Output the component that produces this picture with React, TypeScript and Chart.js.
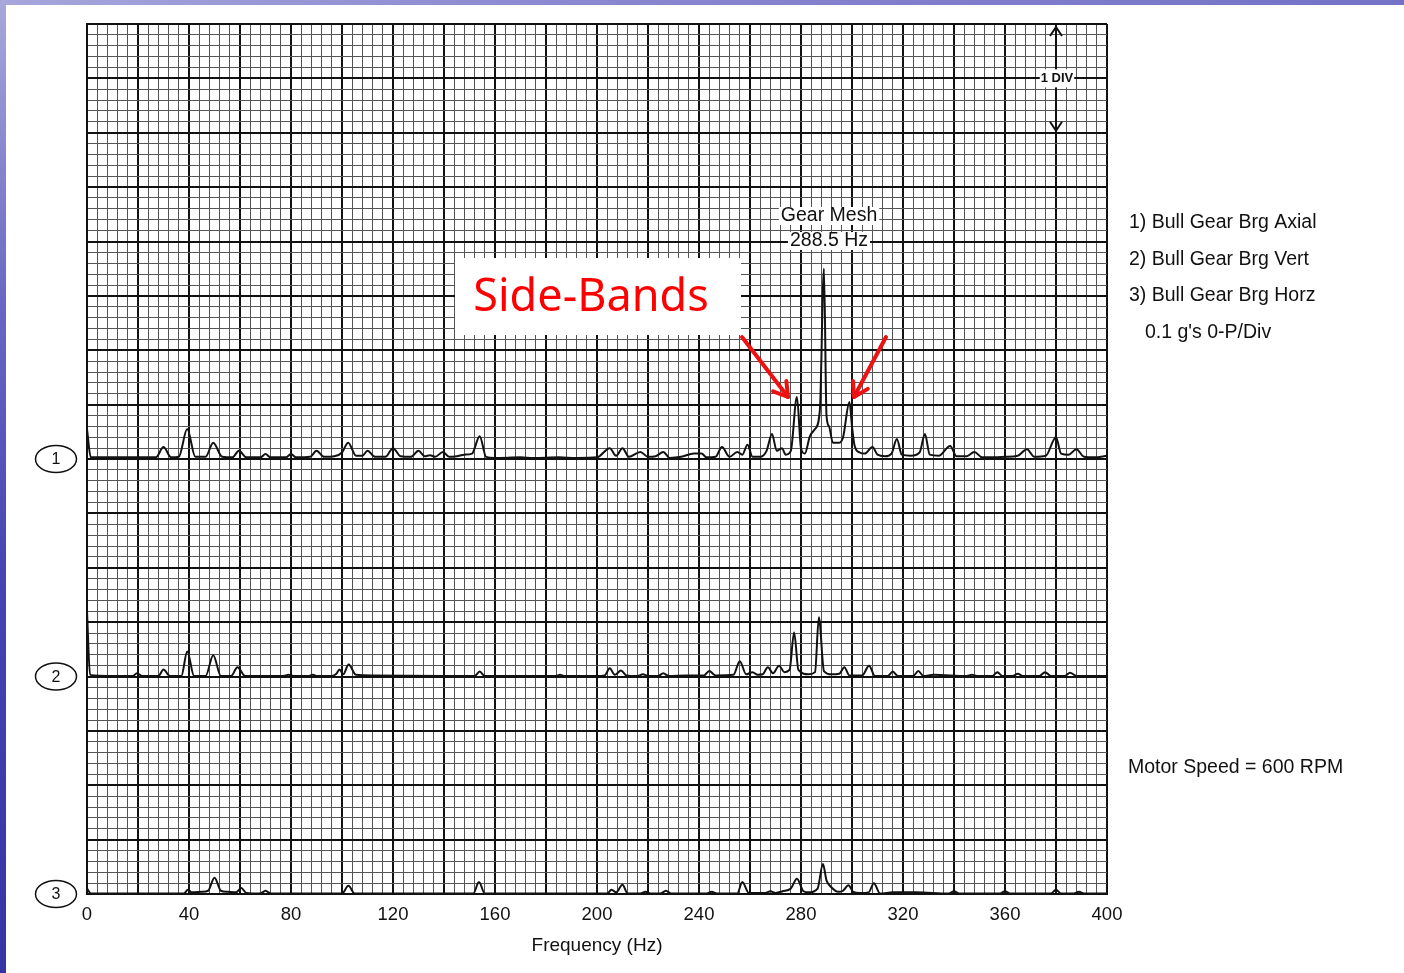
import React, { useEffect, useRef } from "react";
import { Chart, registerables } from "chart.js";

Chart.register(...registerables);

// ---- axis / tick data ----
const xMin = 0;
const xMax = 400;
const xLabelTicks = [0, 40, 80, 120, 160, 200, 240, 280, 320, 360, 400];
const divisions = 16; // vertical major divisions on the chart paper
const gPerDiv = 0.1; // 0.1 g's 0-P / Div

// baselines (in divisions from the bottom) of the three traces
const traceBaselines = [8, 4, 0];
const traceLabels = ["1", "2", "3"];
const legendLines = [
  "1) Bull Gear Brg Axial",
  "2) Bull Gear Brg Vert",
  "3) Bull Gear Brg Horz",
];
const scaleNote = "0.1 g's 0-P/Div";
const speedNote = "Motor Speed = 600 RPM";
const gearMeshLines = ["Gear Mesh", "288.5 Hz"];

// ---- trace 1 : Bull Gear Brg Axial (Hz, g 0-P) ----
const trace1Freq = [
  0, 1.5, 27, 30, 33, 36, 39.3, 42.5, 46.5, 49.5, 53, 57, 59.6, 62.5, 68, 70, 72,
  78, 80, 82, 87.5, 90, 93, 97, 100, 102.4, 105.5, 108, 110, 113, 117, 120, 123,
  127, 130, 132.5, 134.5, 136.5, 139.6, 142, 145, 148, 151, 154, 156.5, 160, 170,
  175, 185, 192, 200, 205, 207.5, 210, 212.5, 217, 220, 223, 226, 228.5, 233, 238,
  241, 243, 246.5, 249, 252, 255, 257, 259, 261, 264, 266.5, 268.6, 270.5, 272.5,
  274, 276, 278.4, 280, 281.5, 283.5, 285.5, 287.4, 289, 290, 291, 292.5, 295,
  296.5, 299, 300, 301, 303, 305, 308, 310, 313, 315.5, 317.6, 319.5, 323, 326.5,
  328.6, 330.5, 334, 338.5, 341, 345, 348, 351, 356, 360, 365, 368.6, 371.5, 376,
  380, 382, 385, 388, 391, 395, 400,
];
const trace1Amp = [
  0.055, 0.003, 0.003, 0.022, 0.003, 0.004, 0.055, 0.004, 0.004, 0.03, 0.004,
  0.003, 0.015, 0.003, 0.003, 0.009, 0.003, 0.003, 0.009, 0.003, 0.004, 0.015,
  0.004, 0.005, 0.012, 0.03, 0.006, 0.006, 0.015, 0.004, 0.004, 0.02, 0.005,
  0.004, 0.015, 0.005, 0.007, 0.004, 0.013, 0.004, 0.005, 0.008, 0.01, 0.042,
  0.004, 0.002, 0.003, 0.002, 0.003, 0.002, 0.003, 0.02, 0.006, 0.02, 0.004,
  0.013, 0.004, 0.005, 0.013, 0.002, 0.004, 0.01, 0.01, 0.003, 0.004, 0.022,
  0.004, 0.013, 0.008, 0.026, 0.004, 0.004, 0.015, 0.046, 0.015, 0.02, 0.008,
  0.015, 0.114, 0.02, 0.01, 0.042, 0.055, 0.09, 0.35, 0.08, 0.06, 0.03, 0.03,
  0.04, 0.105, 0.06, 0.025, 0.012, 0.01, 0.022, 0.008, 0.005, 0.01, 0.037,
  0.008, 0.006, 0.012, 0.046, 0.008, 0.006, 0.024, 0.005, 0.005, 0.013, 0.003,
  0.003, 0.004, 0.006, 0.018, 0.004, 0.006, 0.04, 0.01, 0.008, 0.018, 0.004,
  0.003, 0.006,
];

// ---- trace 2 : Bull Gear Brg Vert ----
const trace2Freq = [
  0, 1.2, 10, 18, 19.6, 21.5, 28, 30, 32.5, 37, 39.3, 42, 46.5, 49.5, 52.5, 56.5,
  59, 62, 77, 79, 81, 87, 88.6, 90, 96, 97.8, 99, 100.5, 102.6, 105.5, 112, 140,
  152, 154, 156, 184, 185.5, 187, 200, 203, 205, 207, 209.4, 211.5, 216, 218,
  220, 224, 226, 228, 235, 242, 244, 246.5, 253.5, 256, 258.5, 261, 263, 265,
  267, 269, 271.4, 273.5, 275.5, 277.3, 279, 283, 285.5, 287, 289, 292, 295, 297,
  299, 304, 306.7, 309, 314, 316, 318, 324, 326, 328, 332, 345, 347, 349, 355,
  357, 359, 363, 365, 367, 373.5, 375.7, 378, 383.5, 385.5, 388, 400,
];
const trace2Amp = [
  0.12, 0.003, 0.001, 0.001, 0.006, 0.001, 0.001, 0.013, 0.001, 0.001, 0.046,
  0.001, 0.001, 0.039, 0.001, 0.001, 0.017, 0.001, 0.001, 0.003, 0.001, 0.001,
  0.003, 0.001, 0.001, 0.005, 0.013, 0.004, 0.022, 0.003, 0.002, 0.001, 0.001,
  0.009, 0.001, 0.001, 0.003, 0.001, 0.001, 0.002, 0.015, 0.003, 0.011, 0.002,
  0.001, 0.004, 0.001, 0.001, 0.006, 0.001, 0.002, 0.002, 0.01, 0.002, 0.003,
  0.028, 0.004, 0.008, 0.003, 0.004, 0.017, 0.006, 0.02, 0.008, 0.012, 0.081,
  0.012, 0.004, 0.008, 0.109, 0.01, 0.004, 0.005, 0.017, 0.002, 0.002, 0.02,
  0.001, 0.001, 0.009, 0.001, 0.001, 0.01, 0.001, 0.003, 0.001, 0.003, 0.001,
  0.001, 0.008, 0.001, 0.001, 0.005, 0.001, 0.001, 0.008, 0.001, 0.001, 0.007,
  0.001, 0.001,
];

// ---- trace 3 : Bull Gear Brg Horz ----
const trace3Freq = [
  0, 1.5, 38, 39.6, 41, 45, 47.5, 50, 52.5, 55, 58.5, 60.5, 62.5, 68, 70, 72, 100,
  102.5, 105, 151.5, 153.7, 156, 204, 205.7, 207.5, 210, 212, 217, 219, 221, 225,
  227, 229, 243, 245, 247, 255, 257, 259.5, 266, 268, 270, 272.8, 276, 278.4, 281,
  283, 286.5, 288.6, 290, 292, 294.5, 296.5, 298.6, 300.5, 303, 306.5, 308.6, 311,
  316, 325, 338, 340, 342, 358, 360, 362, 378, 380, 382, 387, 389, 391, 400,
];
const trace3Amp = [
  0.01, 0.001, 0.001, 0.008, 0.003, 0.004, 0.006, 0.03, 0.006, 0.004, 0.003,
  0.011, 0.002, 0.001, 0.006, 0.001, 0.001, 0.015, 0.001, 0.001, 0.022, 0.001,
  0.001, 0.008, 0.003, 0.017, 0.001, 0.001, 0.004, 0.001, 0.001, 0.006, 0.001,
  0.001, 0.004, 0.001, 0.001, 0.022, 0.002, 0.002, 0.005, 0.002, 0.005, 0.01,
  0.028, 0.005, 0.003, 0.01, 0.055, 0.025, 0.012, 0.004, 0.006, 0.016, 0.004,
  0.002, 0.003, 0.02, 0.001, 0.003, 0.003, 0.001, 0.005, 0.001, 0.001, 0.005,
  0.001, 0.001, 0.008, 0.001, 0.001, 0.004, 0.001, 0.001,
];

const traces = [
  { freq: trace1Freq, amp: trace1Amp },
  { freq: trace2Freq, amp: trace2Amp },
  { freq: trace3Freq, amp: trace3Amp },
];

const SANS = "'Liberation Sans', Arial, sans-serif";

const isMajor = (v: number, step: number) =>
  Math.abs(v / step - Math.round(v / step)) < 1e-6;

function drawArrow(ctx: CanvasRenderingContext2D, x0: number, y0: number, x1: number, y1: number) {
  const ang = Math.atan2(y1 - y0, x1 - x0);
  ctx.beginPath();
  ctx.moveTo(x0, y0);
  ctx.lineTo(x1, y1);
  ctx.stroke();
  const L = 16;
  ctx.beginPath();
  ctx.moveTo(x1 - L * Math.cos(ang - 0.55), y1 - L * Math.sin(ang - 0.55));
  ctx.lineTo(x1, y1);
  ctx.lineTo(x1 - L * Math.cos(ang + 0.55), y1 - L * Math.sin(ang + 0.55));
  ctx.stroke();
}

function textOnWhite(ctx: CanvasRenderingContext2D, text: string, cx: number, cy: number, pad = 2) {
  const w = ctx.measureText(text).width;
  ctx.fillStyle = "#ffffff";
  ctx.fillRect(cx - w / 2 - pad, cy - 9, w + pad * 2, 18);
  ctx.fillStyle = "#111";
  ctx.fillText(text, cx, cy);
}

const annotationPlugin = {
  id: "annotationPlugin",
  afterDraw(chart: any) {
    const ctx: CanvasRenderingContext2D = chart.ctx;
    const ys = chart.scales.y;
    ctx.save();

    // circled trace numbers
    ctx.lineWidth = 1.5;
    ctx.strokeStyle = "#111";
    ctx.textAlign = "center";
    ctx.textBaseline = "middle";
    ctx.font = `16px ${SANS}`;
    traceBaselines.forEach((b, i) => {
      const cy = ys.getPixelForValue(b);
      ctx.beginPath();
      ctx.ellipse(56, cy, 20.5, 13.5, 0, 0, Math.PI * 2);
      ctx.fillStyle = "#fff";
      ctx.fill();
      ctx.stroke();
      ctx.fillStyle = "#111";
      ctx.fillText(traceLabels[i], 56, cy + 1);
    });

    // 1 DIV marker
    ctx.strokeStyle = "#111";
    ctx.lineWidth = 2;
    const dTop = ys.getPixelForValue(divisions) + 3;
    const dBot = ys.getPixelForValue(divisions - 2) - 2;
    ctx.beginPath();
    ctx.moveTo(1056, dTop);
    ctx.lineTo(1056, dBot);
    ctx.stroke();
    ctx.beginPath();
    ctx.moveTo(1050, dTop + 9);
    ctx.lineTo(1056, dTop);
    ctx.lineTo(1062, dTop + 9);
    ctx.moveTo(1050, dBot - 9);
    ctx.lineTo(1056, dBot);
    ctx.lineTo(1062, dBot - 9);
    ctx.stroke();
    ctx.font = `bold 13px ${SANS}`;
    textOnWhite(ctx, "1 DIV", 1057, ys.getPixelForValue(divisions - 1), 1);

    // Gear mesh label
    ctx.font = `19.5px ${SANS}`;
    textOnWhite(ctx, gearMeshLines[0], 829, 216);
    textOnWhite(ctx, gearMeshLines[1], 829, 241);

    // Side-Bands box
    ctx.fillStyle = "#ffffff";
    ctx.fillRect(455, 258, 286, 77);
    ctx.fillStyle = "#ff0000";
    ctx.font = `45px 'Noto Sans', sans-serif`;
    ctx.textAlign = "center";
    ctx.fillText("Side-Bands", 591, 298);

    // red arrows
    ctx.strokeStyle = "#ee1111";
    ctx.lineWidth = 4;
    ctx.lineCap = "round";
    ctx.lineJoin = "round";
    drawArrow(ctx, 742, 337, 788, 397);
    drawArrow(ctx, 886, 337, 854, 397);

    // right-hand notes
    ctx.fillStyle = "#111";
    ctx.textAlign = "left";
    ctx.font = `19.5px ${SANS}`;
    legendLines.forEach((t, i) => ctx.fillText(t, 1129, 223 + i * 36.5));
    ctx.fillText(scaleNote, 1145, 333);
    ctx.fillText(speedNote, 1128, 768);

    ctx.restore();
  },
};

export default function App() {
  const ref = useRef<HTMLCanvasElement | null>(null);

  useEffect(() => {
    if (!ref.current) return;
    const datasets = traces.map((t, i) => ({
      label: legendLines[i],
      data: t.freq.map((f, k) => ({ x: f, y: traceBaselines[i] + t.amp[k] / gPerDiv })),
      borderColor: "#111",
      borderWidth: 2,
      pointRadius: 0,
      tension: 0.35,
      cubicInterpolationMode: "monotone" as const,
      fill: false,
    }));

    const chart = new Chart(ref.current, {
      type: "line",
      data: { datasets },
      options: {
        animation: false,
        responsive: false,
        events: [],
        layout: { padding: { left: 87, right: 297, top: 24, bottom: 16 } },
        plugins: { legend: { display: false }, tooltip: { enabled: false } },
        scales: {
          x: {
            type: "linear",
            min: xMin,
            max: xMax,
            ticks: {
              stepSize: 4,
              autoSkip: false,
              maxRotation: 0,
              padding: 10,
              color: "#111",
              font: { family: SANS, size: 18.5 },
              callback: (v: any) =>
                xLabelTicks.includes(Number(v)) ? String(v) : "",
            },
            grid: {
              drawTicks: false,
              color: (c: any) => (isMajor(c.tick.value, 20) ? "#111" : "#555"),
              lineWidth: (c: any) => (isMajor(c.tick.value, 20) ? 2 : 1),
            },
            border: { display: true, color: "#111", width: 2 },
            title: {
              display: true,
              text: "Frequency (Hz)",
              color: "#111",
              font: { family: SANS, size: 19 },
              padding: { top: -2, bottom: 0 },
            },
          },
          y: {
            type: "linear",
            min: 0,
            max: divisions,
            ticks: { display: false, stepSize: 0.2 },
            grid: {
              drawTicks: false,
              color: (c: any) => (isMajor(c.tick.value, 1) ? "#111" : "#555"),
              lineWidth: (c: any) => (isMajor(c.tick.value, 1) ? 2 : 1),
            },
            border: { display: true, color: "#111", width: 2 },
          },
        },
      },
      plugins: [annotationPlugin],
    });
    return () => chart.destroy();
  }, []);

  return (
    <div style={{ position: "absolute", left: 0, top: 0, width: 1404, height: 973, background: "#fff", overflow: "hidden" }}>
      <canvas ref={ref} width={1404} height={973} style={{ position: "absolute", left: 0, top: 0 }} />
      <div
        style={{
          position: "absolute", left: 0, top: 0, width: 1404, height: 5,
          background: "linear-gradient(90deg, #a6a6dc 0%, #8a88d0 40%, #7472c6 100%)",
        }}
      />
      <div
        style={{
          position: "absolute", left: 0, top: 0, width: 6, height: 973,
          background: "linear-gradient(180deg, #a8a8dc 0%, #6a6ac4 30%, #4444b2 60%, #3434a4 100%)",
        }}
      />
    </div>
  );
}
